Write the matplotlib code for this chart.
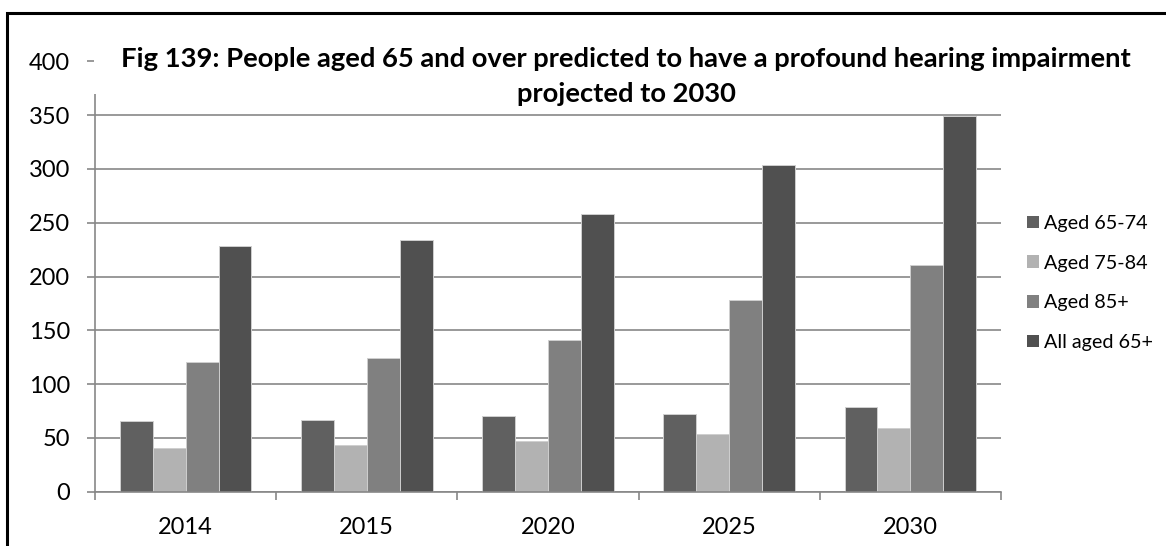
import matplotlib
matplotlib.use("Agg")
import matplotlib.pyplot as plt
from matplotlib.patches import Rectangle
import numpy as np

# Data
years = ["2014", "2015", "2020", "2025", "2030"]
series_names = ["Aged 65-74", "Aged 75-84", "Aged 85+", "All aged 65+"]
aged_65_74 = [66, 67, 70, 72, 79]
aged_75_84 = [41, 43, 47, 54, 59]
aged_85_plus = [121, 124, 141, 178, 211]
all_aged_65_plus = [228, 234, 258, 304, 349]
y_ticks = [0, 50, 100, 150, 200, 250, 300, 350, 400]
title_line1 = "Fig 139: People aged 65 and over predicted to have a profound hearing impairment"
title_line2 = "projected to 2030"

series_values = [aged_65_74, aged_75_84, aged_85_plus, all_aged_65_plus]
bar_colors = ["#606060", "#b2b2b2", "#808080", "#505050"]

plt.rcParams["font.family"] = ["Lato", "DejaVu Sans"]

W, H = 1166, 546
fig = plt.figure(figsize=(W / 100, H / 100), dpi=100)
fig.patch.set_facecolor("white")

# plot area in pixel terms
x0, x1 = 95, 1001
y_top, y_bot = 61.3, 491.7
ax = fig.add_axes([x0 / W, 1 - y_bot / H, (x1 - x0) / W, (y_bot - y_top) / H])
ax.set_xlim(-0.5, len(years) - 0.5)
ax.set_ylim(0, 400)

grid_col = "#878787"
n = len(series_values)
bw = 1 / (n + 1.5)
x = np.arange(len(years))
bars = []
for i, (vals, col, name) in enumerate(zip(series_values, bar_colors, series_names)):
    b = ax.bar(x + (i - (n - 1) / 2) * bw, vals, width=bw, color=col,
               edgecolor="#cfcfcf", linewidth=0.7, label=name, zorder=3)
    bars.append(b)

# axes styling
for s in ["top", "right"]:
    ax.spines[s].set_visible(False)
for s in ["left", "bottom"]:
    ax.spines[s].set_color(grid_col)
    ax.spines[s].set_linewidth(1.2)
    ax.spines[s].set_zorder(4)

ax.set_yticks(y_ticks)
ax.set_yticklabels([str(v) for v in y_ticks], fontsize=17)
ax.yaxis.grid(True, color=grid_col, linewidth=1.2, zorder=0)
ax.set_axisbelow(True)
ax.tick_params(axis="y", direction="out", length=6, width=1.2, color=grid_col, pad=12)

ax.set_xticks(x)
ax.set_xticklabels(years, fontsize=17)
ax.set_xticks(np.arange(-0.5, len(years)), minor=True)
ax.tick_params(axis="x", which="major", length=0, pad=18)
ax.tick_params(axis="x", which="minor", direction="out", length=6, width=1.2, color=grid_col)

# white band behind the title, over the top of the plot area
fig.patches.append(Rectangle((94 / W, 1 - 94 / H), (1010 - 94) / W, 45 / H,
                             transform=fig.transFigure, facecolor="white",
                             edgecolor="none", zorder=5))

fig.text(626 / W, 1 - 67 / H, title_line1, ha="center", va="baseline",
         fontsize=19.7, fontweight="bold", zorder=6)
fig.text(626 / W, 1 - 101.7 / H, title_line2, ha="center", va="baseline",
         fontsize=19.7, fontweight="bold", zorder=6)

leg = fig.legend(handles=bars, labels=series_names, loc="center left",
                 bbox_to_anchor=(1027 / W, 1 - 283 / H), frameon=False,
                 fontsize=14.2, handlelength=0.62, handleheight=0.62,
                 handletextpad=0.22, labelspacing=1.15, borderpad=0,
                 borderaxespad=0)
for h in leg.legend_handles:
    h.set_edgecolor("none")

# outer frame of the chart
fig.patches.append(Rectangle((7 / W, -0.2), 1.2, 1.2 - 12.5 / H,
                             transform=fig.transFigure, facecolor="none",
                             edgecolor="black", linewidth=2.2, zorder=10))

fig.savefig("out.png", dpi=100)
